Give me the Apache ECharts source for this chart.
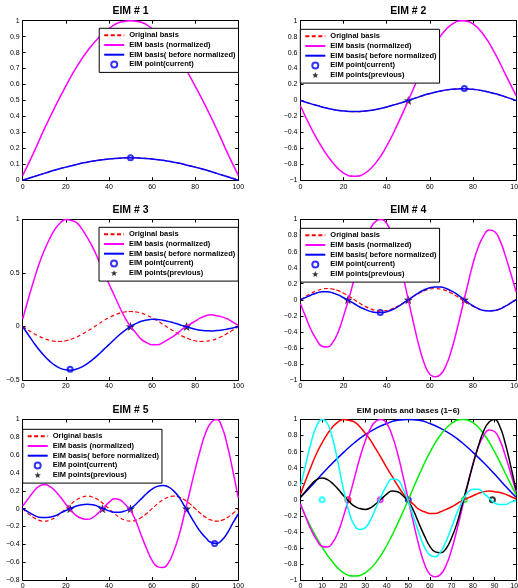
<!DOCTYPE html>
<html>
<head>
<meta charset="utf-8">
<title>EIM bases</title>
<script src="https://cdn.jsdelivr.net/npm/echarts@6/dist/echarts.min.js"></script>
<style>
  html, body { margin: 0; padding: 0; background: #fff; }
  #chart { width: 518px; height: 588px; }
</style>
</head>
<body>
<div id="chart"></div>
<script>
// x samples
var xCoarse = [0,5,10,15,20,25,30,35,40,45,50,55,60,65,70,75,80,85,90,95,100];
var xFine = [0,2.5,5,7.5,10,12.5,15,17.5,20,22.5,25,27.5,30,32.5,35,37.5,40,42.5,45,47.5,50,
             52.5,55,57.5,60,62.5,65,67.5,70,72.5,75,77.5,80,82.5,85,87.5,90,92.5,95,97.5,100];

// EIM # 1 (coarse)
var orig1 = [0,.022,.043,.064,.082,.099,.113,.125,.133,.138,.14,.138,.133,.125,.113,.099,.082,.064,.043,.022,0];
var before1 = [0,.022,.043,.064,.082,.099,.113,.125,.133,.138,.14,.138,.133,.125,.113,.099,.082,.064,.043,.022,0];
var norm1 = [.03,.17,.32,.46,.59,.71,.81,.89,.95,.99,1,.99,.95,.89,.81,.71,.59,.46,.32,.17,.03];

// EIM # 2 (coarse)
var orig2 = [0,-.043,-.082,-.113,-.133,-.14,-.133,-.113,-.082,-.043,0,.045,.086,.118,.139,.147,.139,.118,.086,.045,0];
var before2 = [0,-.043,-.082,-.113,-.133,-.14,-.133,-.113,-.082,-.043,0,.045,.086,.118,.139,.147,.139,.118,.086,.045,0];
var norm2 = [-.07,-.35,-.59,-.78,-.91,-.95,-.91,-.78,-.57,-.30,0,.31,.59,.81,.95,1.0,.96,.82,.60,.33,.06];

// EIM # 3 (fine)
var orig3 = [0,-.033,-.064,-.091,-.113,-.129,-.138,-.140,-.133,-.119,-.099,-.073,-.043,-.011,.022,.054,.082,.106,.125,.136,.140,
             .136,.125,.106,.082,.054,.022,-.011,-.043,-.073,-.099,-.119,-.133,-.140,-.138,-.129,-.113,-.091,-.064,-.033,0];
var before3 = [0,-.075,-.148,-.215,-.274,-.324,-.364,-.391,-.405,-.408,-.398,-.377,-.346,-.308,-.265,-.216,-.169,-.121,-.075,-.035,0,
               .027,.049,.061,.067,.066,.059,.048,.034,.019,.002,-.012,-.025,-.035,-.040,-.042,-.038,-.033,-.024,-.013,0];
var norm3 = [.07,.25,.42,.58,.71,.82,.91,.97,1.0,.99,.97,.91,.83,.74,.63,.52,.40,.29,.18,.08,0,
             -.06,-.12,-.15,-.17,-.17,-.15,-.12,-.09,-.05,-.01,.02,.05,.08,.10,.11,.10,.09,.07,.04,.01];

// EIM # 4 (fine)
var orig4 = [0,.043,.082,.113,.133,.14,.133,.113,.082,.043,0,-.043,-.082,-.113,-.133,-.14,-.133,-.113,-.082,-.043,0,
             .043,.082,.113,.133,.14,.133,.113,.082,.043,0,-.043,-.082,-.113,-.133,-.14,-.133,-.113,-.082,-.043,0];
var before4 = [0,.03,.06,.085,.10,.10,.085,.06,.025,-.01,-.05,-.09,-.12,-.145,-.158,-.16,-.15,-.125,-.09,-.045,0,
               .045,.09,.125,.15,.16,.158,.14,.11,.07,.02,-.03,-.075,-.11,-.135,-.14,-.135,-.115,-.08,-.04,0];
var norm4 = [-.05,-.22,-.38,-.50,-.58,-.59,-.53,-.40,-.20,.02,.27,.52,.73,.89,.98,1.0,.95,.80,.58,.30,0,
             -.30,-.58,-.80,-.93,-.96,-.93,-.82,-.63,-.38,-.10,.18,.45,.66,.80,.87,.85,.74,.55,.33,.10];

// EIM # 5 (fine)
var orig5 = [0,-.054,-.099,-.129,-.14,-.129,-.099,-.054,0,.054,.099,.129,.14,.129,.099,.054,0,-.054,-.099,-.129,-.14,
             -.129,-.099,-.054,0,.054,.099,.129,.14,.129,.099,.054,0,-.054,-.099,-.129,-.14,-.129,-.099,-.054,0];
var before5 = [0,-.035,-.07,-.095,-.10,-.095,-.08,-.05,-.02,.005,.03,.045,.05,.045,.025,0,-.025,-.04,-.04,-.025,0,
               .05,.11,.17,.22,.25,.26,.245,.20,.13,.03,-.07,-.17,-.26,-.33,-.38,-.39,-.35,-.27,-.16,-.06];
var norm5 = [.03,.11,.19,.25,.27,.25,.20,.13,.05,-.02,-.08,-.11,-.12,-.10,-.05,.01,.07,.11,.10,.05,-.02,
             -.14,-.30,-.45,-.58,-.65,-.66,-.61,-.48,-.30,-.06,.19,.44,.67,.86,.97,1.0,.91,.70,.42,.12];

// 6th basis (only in last panel)
var norm6 = [.17,.45,.72,.92,1.0,.95,.75,.45,.12,-.15,-.32,-.37,-.35,-.25,-.10,.05,.18,.26,.25,.14,-.02,
             -.22,-.42,-.59,-.69,-.71,-.65,-.52,-.35,-.17,-.02,.09,.13,.13,.08,.02,-.04,-.06,-.06,-.03,-.01];

// EIM points
var currentX = [50, 76, 22, 37, 89];
var currentY = [0.14, 0.15, -0.40, -0.16, -0.39];
var previousX = [[], [50], [50, 76], [22, 50, 76], [22, 37, 50, 76]];
var pointsX6 = [50, 76, 22, 37, 89, 10];

var titles = ['EIM # 1', 'EIM # 2', 'EIM # 3', 'EIM # 4', 'EIM # 5', 'EIM points and bases (1\u22126)'];
var yMin = [0, -1, -0.5, -1, -0.8, -1];
var yMax = [1, 1, 1, 1, 1, 1];
var yStep = [0.1, 0.2, 0.5, 0.2, 0.2, 0.2];
var xStep = [20, 20, 20, 20, 20, 10];

var names = ['Original basis', 'EIM basis (normalized)', 'EIM basis( before normalized)',
             'EIM point(current)', 'EIM points(previous)'];

var FONT = '"Liberation Sans", Arial, sans-serif';
var STAR = 'path://M12,1 L14.9,8.6 L23,9 L16.7,14.1 L18.8,22 L12,17.6 L5.2,22 L7.3,14.1 L1,9 L9.1,8.6 Z';

function pairs(xs, ys) {
  return xs.map(function (x, i) { return [x, ys[i]]; });
}
function fmtY(v) {
  v = parseFloat(v.toFixed(2));
  return v < 0 ? '\u2212' + String(-v) : String(v);
}

// subplot boxes
var grids = [
  { left: 22.7, top: 20.7, width: 215.6, height: 159.5 },
  { left: 300.5, top: 20.7, width: 215.6, height: 159.5 },
  { left: 22.7, top: 219.5, width: 215.6, height: 160.5 },
  { left: 300.5, top: 219.5, width: 215.6, height: 160.5 },
  { left: 22.7, top: 419.5, width: 215.6, height: 160.5 },
  { left: 300.5, top: 419.5, width: 215.6, height: 160.5 }
];
grids.forEach(function (g) { g.outerBoundsMode = 'none'; g.containLabel = false; });

var titleTop = [6, 6, 205, 205, 405, 407];

var xAxes = [], yAxes = [], titleList = [];
grids.forEach(function (g, i) {
  var tick = { inside: true, length: 3, lineStyle: { color: '#000', width: 1 } };
  var line = { onZero: false, lineStyle: { color: '#000', width: 1 } };
  var lab = { fontSize: 7, color: '#000', fontFamily: FONT };
  xAxes.push({ gridIndex: i, type: 'value', position: 'bottom', min: 0, max: 100, interval: xStep[i],
    axisLine: line, axisTick: tick, splitLine: { show: false },
    axisLabel: Object.assign({ margin: 3, hideOverlap: false }, lab) });
  xAxes.push({ gridIndex: i, type: 'value', position: 'top', min: 0, max: 100, interval: xStep[i],
    axisLine: line, axisTick: tick, splitLine: { show: false }, axisLabel: { show: false } });
  yAxes.push({ gridIndex: i, type: 'value', position: 'left', min: yMin[i], max: yMax[i], interval: yStep[i],
    axisLine: line, axisTick: tick, splitLine: { show: false },
    axisLabel: Object.assign({ margin: 3, formatter: fmtY }, lab) });
  yAxes.push({ gridIndex: i, type: 'value', position: 'right', min: yMin[i], max: yMax[i], interval: yStep[i],
    axisLine: line, axisTick: tick, splitLine: { show: false }, axisLabel: { show: false } });
  titleList.push({
    text: titles[i], left: g.left + g.width / 2, textAlign: 'center', top: titleTop[i], padding: 0,
    textStyle: { fontSize: i == 5 ? 8 : 10.5, fontWeight: 'bold', color: '#000', fontFamily: FONT }
  });
});

var series = [];
function lineSeries(i, name, xs, ys, color, dashed) {
  series.push({
    type: 'line', name: name, xAxisIndex: 2 * i, yAxisIndex: 2 * i,
    data: pairs(xs, ys), symbol: 'circle', showSymbol: false, smooth: true,
    lineStyle: { color: color, width: dashed ? 1.2 : 1.5, type: dashed ? [4, 2.5] : 'solid' },
    itemStyle: { color: color, opacity: 0 }
  });
}

var panels = [
  [xCoarse, orig1, before1, norm1],
  [xCoarse, orig2, before2, norm2],
  [xFine, orig3, before3, norm3],
  [xFine, orig4, before4, norm4],
  [xFine, orig5, before5, norm5]
];
panels.forEach(function (p, i) {
  lineSeries(i, names[0], p[0], p[1], '#ff0000', true);
  lineSeries(i, names[1], p[0], p[3], '#ff00ff', false);
  lineSeries(i, names[2], p[0], p[2], '#0000ff', false);
  series.push({
    type: 'scatter', name: names[3], xAxisIndex: 2 * i, yAxisIndex: 2 * i,
    data: [[currentX[i], currentY[i]]], symbol: 'emptyCircle', symbolSize: 5,
    itemStyle: { color: '#0000ff', borderWidth: 1.5 }
  });
  if (previousX[i].length) {
    series.push({
      type: 'scatter', name: names[4], xAxisIndex: 2 * i, yAxisIndex: 2 * i,
      data: previousX[i].map(function (x) { return [x, 0]; }), symbol: STAR, symbolSize: 9,
      itemStyle: { color: '#000' }
    });
  }
});

// last panel: all normalized bases and their points
var bases6 = [[xCoarse, norm1], [xCoarse, norm2], [xFine, norm3], [xFine, norm4], [xFine, norm5], [xFine, norm6]];
var colors6 = ['#0000ff', '#00ee00', '#ff0000', '#ff00ff', '#000000', '#00ffff'];
bases6.forEach(function (b, k) {
  lineSeries(5, 'basis ' + (k + 1), b[0], b[1], colors6[k], false);
});
pointsX6.forEach(function (x, k) {
  series.push({
    type: 'scatter', name: 'point ' + (k + 1), xAxisIndex: 10, yAxisIndex: 10,
    data: [[x, 0]], symbol: 'emptyCircle', symbolSize: 5,
    itemStyle: { color: colors6[k], borderWidth: 1.5 }
  });
});

var legendPos = [
  { right: 279.5, top: 28.3 },
  { left: 300.3, top: 29.3 },
  { right: 279.7, top: 227.3 },
  { left: 300.3, top: 228.3 },
  { left: 22.7, top: 429.3 }
];
var legends = legendPos.map(function (pos, i) {
  return Object.assign({
    orient: 'vertical', align: 'left', selectedMode: false,
    data: i == 0 ? names.slice(0, 4) : names.slice(),
    itemWidth: 20, itemHeight: 6, itemGap: 0.7, padding: [2.5, 3, 3.5, 4],
    borderColor: '#000', borderWidth: 1, backgroundColor: '#fff',
    textStyle: { fontSize: 7.5, lineHeight: 9, fontWeight: 'bold', color: '#000', fontFamily: FONT }
  }, pos);
});

var chart = echarts.init(document.getElementById('chart'));
chart.setOption({
  animation: false,
  backgroundColor: '#fff',
  title: titleList,
  legend: legends,
  grid: grids,
  xAxis: xAxes,
  yAxis: yAxes,
  series: series
});
</script>
</body>
</html>
